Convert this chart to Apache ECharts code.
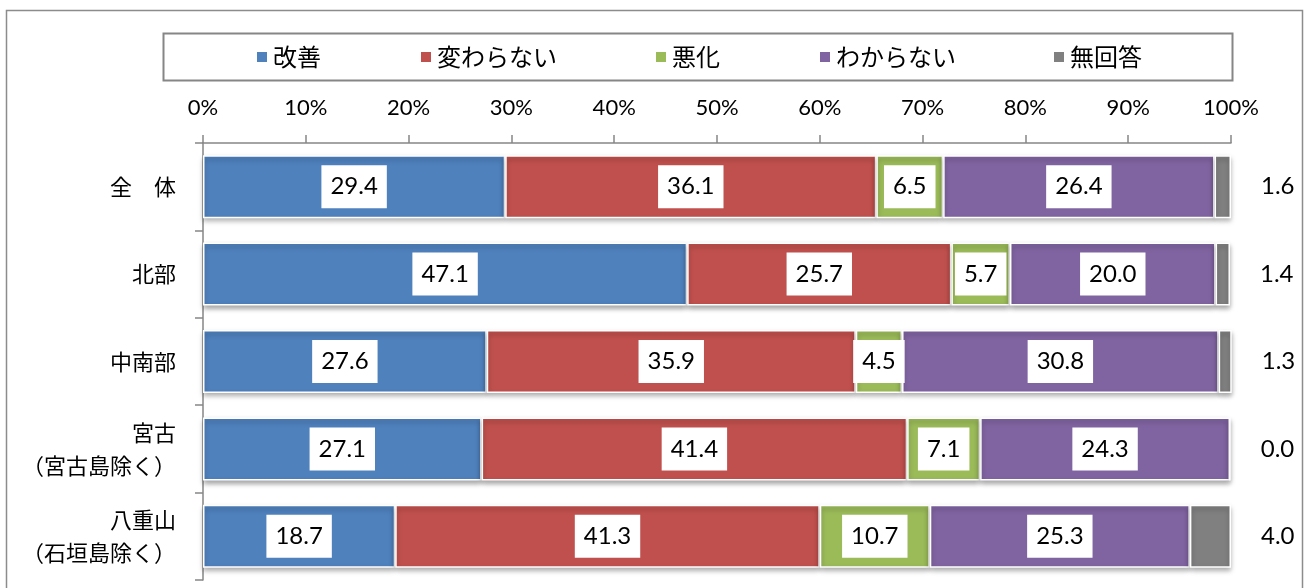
<!DOCTYPE html>
<html>
<head>
<meta charset="utf-8">
<script src="https://cdn.jsdelivr.net/npm/echarts@6/dist/echarts.min.js"></script>
<style>
  html, body { margin: 0; padding: 0; background: #fff; }
  #chart { width: 1306px; height: 588px; }
</style>
</head>
<body>
<div id="chart"></div>
<script>
// Regions (top to bottom)
const categories = ['全　体', '北部', '中南部', '宮古\n（宮古島除く）', '八重山\n（石垣島除く）'];
// Response types, in stacking order
const seriesNames = ['改善', '変わらない', '悪化', 'わからない', '無回答'];
const seriesColors = ['#4F81BD', '#C0504D', '#9BBB59', '#8064A2', '#808080'];
// Shares (%) per region
const improved  = [29.4, 47.1, 27.6, 27.1, 18.7];
const unchanged = [36.1, 25.7, 35.9, 41.4, 41.3];
const worsened  = [6.5, 5.7, 4.5, 7.1, 10.7];
const unknown   = [26.4, 20.0, 30.8, 24.3, 25.3];
const noAnswer  = [1.6, 1.4, 1.3, 0.0, 4.0];
// Percent axis ticks
const tickMin = 0, tickMax = 100, tickStep = 10;

const seriesData = [improved, unchanged, worsened, unknown, noAnswer];
const legendLeft = [255, 419, 654, 818, 1052];

const NUM_FONT = 'Lato, "Noto Sans", sans-serif';
const JP_FONT = '"Noto Sans CJK JP", "Noto Sans", sans-serif';
const AXIS_GREY = '#868686';

const chart = echarts.init(document.getElementById('chart'), null, { renderer: 'canvas' });

const series = seriesData.map((data, i) => {
  const last = i === seriesData.length - 1;
  return {
    name: seriesNames[i],
    type: 'bar',
    stack: 'total',
    barWidth: 63,
    data: data,
    itemStyle: {
      color: seriesColors[i],
      borderColor: '#fff',
      borderWidth: 1.5,
      shadowColor: 'rgba(0,0,0,0.35)',
      shadowBlur: 5,
      shadowOffsetY: 3
    },
    label: last ? {
      show: true,
      position: 'right',
      distance: 30,
      color: '#000',
      fontFamily: NUM_FONT,
      fontSize: 24,
      formatter: p => p.value.toFixed(1)
    } : {
      show: true,
      position: 'inside',
      color: '#000',
      fontFamily: NUM_FONT,
      fontSize: 24,
      lineHeight: 25,
      backgroundColor: '#fff',
      padding: [9, 9, 9, 9],
      formatter: p => p.value.toFixed(1)
    },
    emphasis: { disabled: true }
  };
});

const option = {
  animation: false,
  color: seriesColors,
  graphic: [
    {
      type: 'rect', silent: true, z: -1,
      shape: { x: 6.5, y: 10.5, width: 1296, height: 600 },
      style: { fill: 'none', stroke: '#8c8c8c', lineWidth: 1.5 }
    },
    {
      type: 'rect', silent: true, z: -1,
      shape: { x: 163.5, y: 33.5, width: 1069, height: 47 },
      style: { fill: 'none', stroke: AXIS_GREY, lineWidth: 2 }
    }
  ],
  legend: seriesNames.map((name, i) => ({
    data: [name],
    left: legendLeft[i],
    top: 45,
    padding: 0,
    icon: 'rect',
    itemWidth: 12,
    itemHeight: 12,
    selectedMode: false,
    textStyle: { color: '#000', fontFamily: JP_FONT, fontSize: 24, lineHeight: 24 }
  })),
  grid: { left: 203, right: 75, top: 143, bottom: 8, containLabel: false },
  xAxis: {
    type: 'value',
    position: 'top',
    min: tickMin,
    max: tickMax,
    interval: tickStep,
    axisLine: { show: true, lineStyle: { color: AXIS_GREY, width: 1.5 } },
    axisTick: { show: true, length: 8, lineStyle: { color: AXIS_GREY, width: 1.5 } },
    splitLine: { show: false },
    axisLabel: {
      margin: 24,
      color: '#000',
      fontFamily: NUM_FONT,
      fontSize: 22,
      formatter: '{value}%'
    }
  },
  yAxis: {
    type: 'category',
    inverse: true,
    data: categories,
    axisLine: { show: true, lineStyle: { color: AXIS_GREY, width: 1.5 } },
    axisTick: { show: true, length: 8, lineStyle: { color: AXIS_GREY, width: 1.5 } },
    axisLabel: {
      margin: 27,
      color: '#000',
      fontFamily: JP_FONT,
      fontSize: 22,
      lineHeight: 33,
      align: 'right'
    }
  },
  series: series
};

chart.setOption(option);
</script>
</body>
</html>
